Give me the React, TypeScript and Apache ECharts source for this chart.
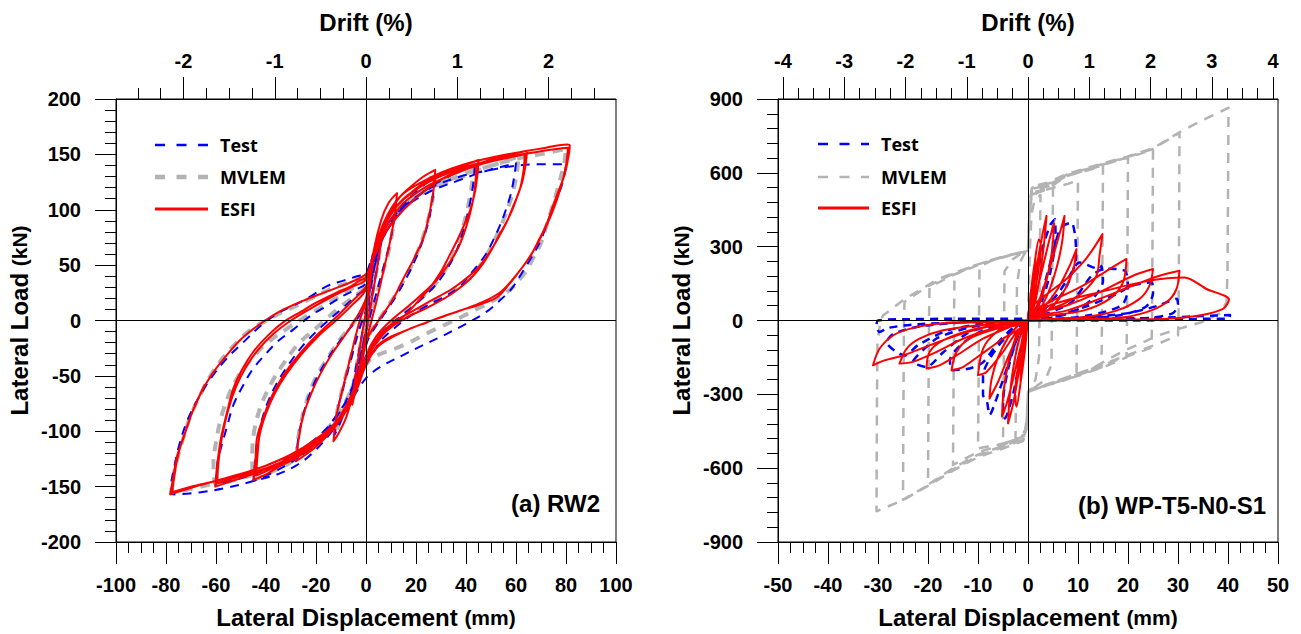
import React, { useEffect, useRef } from "react";
import * as echarts from "echarts";

type Pt = [number, number];

// ---------------- Panel (a) RW2 ----------------
const rw2DriftMajor = [-2, -1, 0, 1, 2];
const rw2DriftMinor = [-2.5, -2.25, -1.75, -1.5, -1.25, -0.75, -0.5, -0.25, 0.25, 0.5, 0.75, 1.25, 1.5, 1.75, 2.25, 2.5];
const RW2_MM_PER_PCT = 36.5;

const rw2Test: Pt[][] = [
  [[0, 0], [2, 30], [4, 55], [6, 72], [5, 55], [3, 30], [1, 5], [0, -8], [-2, -30], [-4, -55], [-6, -72], [-5, -55], [-3, -30], [-1, -5], [0, 5]],
  [[2, 40], [5, 70], [8, 90], [12, 108], [11, 88], [9, 65], [6, 40], [3, 15], [0, -10], [-3, -40], [-6, -65], [-9, -85], [-12.5, -103], [-11.5, -82], [-9, -60], [-6, -35], [-3, -10], [0, 10]],
  [[3, 45], [7, 75], [12, 95], [18, 112], [24, 124], [27.5, 130], [26.5, 108], [24.5, 85], [21, 62], [17, 42], [12, 22], [7, 5], [2, -12], [0, -22], [-3, -45], [-7, -68], [-12, -88], [-18, -105], [-24, -118], [-28, -127], [-27, -105], [-24.5, -80], [-21, -58], [-16, -37], [-10, -17], [-4, 0], [0, 15]],
  [[3, 50], [8, 80], [15, 100], [24, 118], [33, 130], [43.5, 141], [43, 125], [41.5, 105], [39, 82], [36, 62], [32, 45], [27, 30], [21, 17], [14, 4], [8, -7], [3, -20], [0, -32], [-3.6, -55], [-8, -78], [-14, -98], [-22, -115], [-30, -128], [-38, -138], [-45, -145], [-44, -120], [-42.5, -98], [-40, -78], [-36, -58], [-31, -40], [-25, -22], [-18, -6], [-10, 10], [-4, 22], [0, 30]],
  [[4.4, 67], [11, 94], [24.4, 115], [37.7, 127], [48, 135], [60, 142], [59.3, 130], [58, 115], [56.4, 103], [54, 88], [51, 73], [48, 60], [44.4, 49], [41, 40], [37.7, 31], [31, 21], [24.4, 13.5], [17, 3], [11, -7.5], [6, -18], [3, -28.5], [0, -40], [-6, -67], [-11, -83], [-15.6, -97], [-22, -110], [-29, -121], [-36, -130], [-42, -136], [-51, -143], [-60, -148], [-59.4, -128], [-58, -115], [-55.5, -95], [-53, -76], [-49, -58], [-45, -43], [-40, -30], [-35.6, -19.5], [-29, -8], [-22, 4.5], [-15, 14], [-9, 22.5], [-4, 28], [0, 34]],
  [[4.4, 73], [11, 94], [24.4, 118], [37.7, 130], [48, 135], [57.7, 139], [68, 141], [80, 141], [79.5, 133], [78, 120], [75, 103], [72.5, 88], [70, 73], [67, 60], [64, 49], [61, 38], [58, 28], [53, 17], [48, 7.5], [40, -3], [31, -13.5], [23, -22], [15, -31], [8, -39], [3, -46], [0, -52], [-4, -65], [-9, -85], [-15, -104], [-22, -121], [-28, -131], [-35.6, -139], [-45, -145], [-55.6, -151], [-66, -155], [-77, -157], [-78, -150], [-77, -136], [-75, -115], [-71.6, -91], [-67, -70], [-62, -52], [-56, -35], [-49, -19.5], [-42, -4.5], [-35, 7], [-29, 13.5], [-22, 22], [-15.6, 31], [-9, 36], [-3.6, 40], [0, 43], [2, 55]],
];

const rw2Mvlem: Pt[][] = [
  [[0, 0], [2, 32], [4.4, 58], [6, 72], [5, 55], [3, 30], [1, 5], [0, -8], [-2, -30], [-4, -55], [-5.5, -70], [-4.5, -52], [-2.5, -25], [0, 2]],
  [[2, 38], [5, 68], [8.5, 90], [12, 106], [11, 86], [9, 62], [6, 38], [3, 14], [0, -10], [-3, -40], [-6, -64], [-9.5, -86], [-12.5, -103], [-11.5, -82], [-9, -58], [-6, -33], [-3, -8], [0, 12]],
  [[3, 48], [7, 78], [12, 98], [18, 114], [24, 125], [27.5, 132], [26.8, 112], [24.5, 88], [21, 64], [17, 44], [12, 24], [7, 7], [2, -10], [0, -20], [-3, -44], [-7, -68], [-12, -88], [-18, -104], [-24, -117], [-28, -126], [-27, -104], [-24.5, -79], [-21, -56], [-16, -36], [-10, -16], [-4, 1], [0, 18]],
  [[3, 55], [8, 84], [15, 104], [24, 119], [33, 130], [43, 142], [42.5, 125], [41, 105], [38.5, 82], [35.5, 62], [31.5, 45], [27, 31], [21, 18], [14, 5], [8, -6], [3, -20], [0, -32], [-3.6, -55], [-8, -78], [-14, -98], [-22, -115], [-30, -128], [-38, -137], [-45, -144], [-45.5, -120], [-44.5, -97], [-42, -77], [-38, -57], [-33, -39], [-27, -21], [-19, -5], [-11, 11], [-4, 23], [0, 31]],
  [[4.4, 68], [11, 96], [24.4, 117], [37.7, 129], [48, 138], [61, 148], [60.4, 134], [59, 118], [57, 103], [54.5, 88], [51.5, 73], [48, 58], [44.4, 46], [40, 36], [35, 27], [28, 18], [21, 10], [14, 1], [8, -9], [3.5, -22], [0, -38], [-5, -64], [-11, -88], [-17, -104], [-24, -118], [-32, -128], [-42, -137], [-51, -143], [-60, -148], [-61, -128], [-60, -110], [-58, -88], [-55, -68], [-51, -50], [-46, -35], [-40, -21], [-32, -8], [-23, 5], [-14, 17], [-7, 27], [0, 38]],
  [[4.4, 70], [11, 97], [24.4, 118], [37.7, 131], [44.4, 136], [55, 143], [64.4, 148], [72, 151], [80, 155], [79.5, 145], [79, 139], [77, 122], [75, 106], [72.5, 88], [70, 70], [67, 57], [64.4, 46], [61, 36], [57.7, 28], [51, 18], [44.4, 10.5], [38, 3], [31, -4.5], [24, -12], [17.7, -19.5], [11, -26], [4.4, -31.5], [0, -40], [-5, -67], [-11.6, -91], [-17, -104], [-22, -115], [-32, -127], [-42, -136], [-52, -143], [-62, -148], [-70, -152], [-78, -156], [-77, -140], [-75, -121], [-72.5, -102], [-70, -85], [-66, -66], [-62, -49], [-57, -33], [-51.6, -19.5], [-46, -8], [-41, -1.5], [-34, 7], [-27.6, 13.5], [-21, 21], [-14, 28.5], [-7, 34], [0, 40]],
];

const rw2Esfi: Pt[][] = [
  [[0, 0], [1.5, 30], [3, 55], [5, 75], [6.4, 82], [5.8, 68], [4.5, 48], [3, 28], [1.5, 8], [0, -10], [-1.5, -30], [-3, -50], [-4.5, -66], [-5.5, -76], [-4.8, -60], [-3.5, -40], [-2, -18], [-0.5, 2], [0, 8]],
  [[1, 30], [3, 62], [6, 90], [9, 106], [12.4, 115], [11.5, 95], [9.5, 70], [7, 45], [4.5, 20], [2, -2], [0, -18], [-2, -38], [-5, -65], [-8, -88], [-11, -102], [-13, -109], [-12, -88], [-10, -68], [-7.5, -45], [-5, -22], [-2.5, 0], [0, 18]],
  [[2, 45], [5, 72], [8.4, 92], [13, 110], [18, 121], [23, 130], [27.7, 136], [27, 118], [25.5, 98], [23, 75], [19, 55], [15, 38], [11, 20], [6, 3], [2, -10], [0, -20], [-2.3, -45], [-6, -68], [-10, -85], [-14, -100], [-19, -112], [-24, -121], [-28, -127], [-27, -108], [-25, -85], [-21, -61], [-17, -43], [-13, -28], [-8, -12], [-4, 2], [0, 20]],
  [[3, 60], [6, 82], [10, 98], [17.7, 115], [25, 127], [31, 133], [38, 139], [45, 145], [44.6, 132], [43.5, 115], [41.7, 100], [39, 85], [36.4, 72], [33, 57], [29.7, 43], [25.7, 30], [21.7, 19.5], [17, 8], [12.4, -1.5], [8, -10], [4.4, -19.5], [1.5, -30], [0, -37], [-3.6, -60], [-7.5, -78], [-11.6, -91], [-17, -105], [-22, -115], [-28, -124], [-35.6, -133], [-40, -139], [-45, -144], [-44.2, -125], [-43.6, -106], [-41, -87], [-38, -70], [-34, -53], [-29, -37], [-23, -21], [-17, -7.5], [-11, 5], [-6, 16.5], [-2.5, 24], [0, 31]],
  [[3, 55], [8, 80], [15, 100], [24, 118], [33, 131], [44, 141], [43.8, 125], [42.5, 105], [40, 84], [37, 66], [33, 51], [28.5, 37], [23, 25], [17, 13], [11, 2], [6, -9], [2.5, -20], [0, -33], [-4, -60], [-9, -82], [-15, -100], [-23, -115], [-31, -126], [-38, -134], [-44, -140], [-43.4, -122], [-42.5, -103], [-40, -84], [-36.5, -66], [-32, -49], [-26, -31], [-19, -14], [-12, 0], [-6, 13], [0, 28]],
  [[3, 62], [7, 85], [13, 105], [24, 124], [34, 134], [44, 141], [54, 148], [64.4, 153], [63.8, 140], [62.5, 125], [60.5, 112], [58.5, 100], [56, 88], [53.7, 79], [50.5, 65], [47, 52], [43.5, 42], [40, 34], [35.5, 26], [31, 19.5], [24, 11], [17.7, 4.5], [12, -3], [7, -10.5], [3.5, -20], [1.7, -28.5], [0, -38], [-3.6, -62], [-7.5, -80], [-11.6, -94], [-19, -110], [-27.6, -121], [-35, -129], [-42, -136], [-51, -143], [-60.3, -150], [-59.5, -130], [-58, -106], [-55.5, -82], [-53, -61], [-49.5, -44], [-45, -28], [-39, -13], [-33, -1.5], [-26, 8], [-19.6, 16.5], [-12, 25], [-6, 31], [-2.5, 36], [0, 39]],
  [[3, 58], [8, 84], [15, 106], [25, 122], [35, 132], [46, 141], [55, 146], [63.5, 150], [63, 135], [61.5, 118], [59, 104], [56.5, 90], [53, 75], [49, 60], [45, 48], [40, 38], [34, 28], [26, 18], [19, 9], [12, 0], [6, -12], [2.5, -24], [0, -35], [-4, -60], [-9, -82], [-15, -100], [-24, -116], [-33, -127], [-42, -135], [-51, -141], [-59.5, -147], [-59, -128], [-57.5, -104], [-55, -80], [-52, -60], [-48, -42], [-43, -26], [-37, -12], [-30, 0], [-22, 11], [-14, 21], [-6, 30], [0, 37]],
  [[3, 58], [7, 88], [13.7, 112], [24, 127], [34, 137], [44, 144], [54, 149], [64, 153], [72, 156], [80.4, 159], [81.5, 158], [80.5, 142], [79.2, 130], [77.7, 121], [75, 105], [72.4, 88], [69, 72], [65.7, 58], [61.5, 45], [57.7, 34], [52.4, 21], [45, 14], [37.7, 9], [31, 3.5], [24.4, -1.5], [17.5, -7.5], [11, -13.5], [6, -20], [3, -28], [0, -40], [-3.6, -61], [-6.5, -75], [-9, -85], [-13, -95], [-17, -103], [-25, -116], [-35.6, -127], [-45, -135], [-55.6, -142], [-67, -149], [-78.3, -157], [-77, -140], [-75.5, -122], [-73, -106], [-69.5, -83], [-65, -61], [-60.5, -45], [-55.6, -31], [-50.5, -18], [-45, -7.5], [-39, 2], [-33, 10], [-25, 18], [-17, 25], [-10, 31], [-3.6, 37], [0, 42]],
  [[3, 55], [8, 88], [15, 110], [25, 125], [35, 135], [45, 142], [55, 147], [65, 151], [73, 154], [80.8, 156], [80, 140], [78.5, 125], [76.5, 110], [74, 95], [71, 80], [67.5, 65], [63.5, 51], [59, 38], [54, 26], [47, 17], [39, 10], [31, 4], [24, -2], [17, -8], [10.5, -15], [5.5, -22], [2.5, -30], [0, -40], [-3.6, -60], [-8, -80], [-13, -94], [-20, -107], [-30, -121], [-40, -131], [-50, -139], [-60, -145], [-70, -150], [-77.5, -155], [-76.5, -138], [-75, -120], [-72.5, -102], [-69, -80], [-64.5, -58]],
];

// ---------------- Panel (b) WP-T5-N0-S1 ----------------
const wpDriftMajor = [-4, -3, -2, -1, 0, 1, 2, 3, 4];
const wpDriftMinor = [-3.75, -3.5, -3.25, -2.75, -2.5, -2.25, -1.75, -1.5, -1.25, -0.75, -0.5, -0.25, 0.25, 0.5, 0.75, 1.25, 1.5, 1.75, 2.25, 2.5, 2.75, 3.25, 3.5, 3.75];
const WP_MM_PER_PCT = 12.25;

const wpMvlem: Pt[][] = [
  [[0, 0], [0.2, 150], [0.4, 300], [0.7, 430], [1.3, 490], [2.5, 510], [2.4, 300], [2.3, 50], [2.2, -150], [1.5, -240], [0.7, -275], [0, -290], [-0.2, -380], [-0.5, -440], [-1.2, -470], [-2.5, -480], [-2.4, -300], [-2.3, -50], [-2.2, 150], [-1.5, 240], [-0.7, 272], [0, 283]],
  [[0.2, 400], [0.6, 500], [2, 520], [3.5, 530], [5, 540], [4.9, 300], [4.8, 50], [4.7, -180], [3.5, -240], [2, -262], [0.8, -280], [0, -290], [-0.2, -400], [-0.6, -460], [-2, -480], [-3.5, -490], [-5, -500], [-4.9, -300], [-4.8, -50], [-4.7, 200], [-3, 250], [-1.5, 270], [0, 283]],
  [[0.2, 420], [0.6, 510], [3, 528], [6, 545], [8, 555], [10, 570], [9.9, 300], [9.8, 0], [9.7, -215], [7, -240], [4, -262], [1.5, -280], [0, -290], [-0.3, -410], [-0.8, -470], [-3, -490], [-6, -505], [-8, -512], [-10, -520], [-9.9, -300], [-9.8, 0], [-9.7, 220], [-7, 245], [-4, 262], [-1.5, 275], [0, 283]],
  [[0.3, 430], [0.8, 520], [4, 535], [7.7, 587], [11, 605], [15, 627], [14.9, 300], [14.8, 0], [14.7, -190], [11, -215], [7, -245], [3, -268], [0, -290], [-0.3, -420], [-0.8, -470], [-5, -505], [-10, -535], [-12.5, -560], [-15, -587], [-14.9, -300], [-14.8, 0], [-14.7, 185], [-11, 222], [-7, 248], [-3, 268], [0, 283]],
  [[0.3, 440], [0.8, 530], [4, 545], [7.7, 587], [14.3, 627], [17, 645], [20, 661], [19.9, 300], [19.8, 0], [19.7, -150], [15, -190], [10, -225], [5, -255], [2, -275], [0, -290], [-0.3, -430], [-1, -480], [-5, -510], [-10, -545], [-15, -600], [-20, -667], [-19.9, -300], [-19.8, 0], [-19.7, 135], [-15, 185], [-10, 225], [-5, 258], [-2, 274], [0, 283]],
  [[0.3, 450], [0.8, 535], [4, 550], [7.7, 590], [14.3, 630], [19.7, 661], [25, 694], [24.9, 300], [24.8, 0], [24.7, -110], [20, -145], [15, -180], [10, -218], [5, -252], [2, -274], [0, -290], [-0.3, -440], [-1, -485], [-5, -515], [-10, -550], [-15, -605], [-20, -670], [-25, -728], [-24.9, -300], [-24.8, 0], [-24.7, 75], [-20, 140], [-15, 190], [-10, 228], [-5, 258], [-2, 274], [0, 283]],
  [[0.3, 460], [0.8, 540], [4, 555], [7.7, 592], [14.3, 632], [19.7, 663], [25, 697], [30.3, 763], [30.2, 300], [30.1, 0], [30, -60], [26, -95], [20, -140], [15, -178], [10, -215], [5, -250], [2, -274], [0, -290], [-0.3, -450], [-1, -490], [-5, -520], [-10, -555], [-15, -610], [-20, -672], [-25, -730], [-30.3, -775], [-30.2, -300], [-30.1, -90], [-29.5, 0], [-29, 20], [-24.6, 88], [-18, 168], [-11, 222], [-4.6, 263], [0, 283]],
  [[0.3, 470], [0.8, 545], [4, 560], [7.7, 595], [14.3, 635], [19.7, 665], [25, 700], [30.3, 765], [35, 815], [40.1, 864], [40, 500], [39.9, 200], [39.7, 75], [38.5, 30], [34.7, -7], [30, -35], [26, -61], [18.7, -128], [12.7, -196], [5.4, -249], [0, -283]],
];

const wpTest: Pt[][] = [
  [[0, 0], [1.5, 150], [3, 300], [4.5, 390], [5.4, 411], [5.5, 330], [4.5, 200], [3, 90], [1.5, 25], [0, 0]],
  [[-1.5, -150], [-3, -300], [-4.6, -398], [-5, -330], [-4, -200], [-2.5, -90], [-1, -20], [0, 0]],
  [[2, 60], [4, 200], [6, 350], [7, 384], [8.7, 398], [9.5, 330], [9.6, 260], [8, 150], [5, 60], [2, 15], [0, 0]],
  [[-2, -60], [-4, -180], [-6, -300], [-7.7, -384], [-8.2, -330], [-9, -303], [-9, -222], [-7.5, -150], [-5, -80], [-2, -25], [0, 0]],
  [[3, 40], [6, 110], [8, 170], [10.3, 236], [14.3, 209], [14.7, 222], [15, 160], [13, 90], [9, 35], [4, 8], [0, 0]],
  [[-3, -30], [-6, -90], [-9, -170], [-11.7, -195], [-15.3, -202], [-15.6, -160], [-13.5, -100], [-9, -40], [-4, -8], [0, 0]],
  [[4, 30], [8.7, 74], [12.7, 182], [15.4, 210], [19.4, 202], [20, 128], [18.7, 61], [12, 20], [5, 5], [0, 0]],
  [[-6, -15], [-12, -50], [-17, -130], [-20.3, -189], [-23, -168], [-21, -120], [-18, -70], [-12, -30], [-5, -6], [0, 0]],
  [[6, 20], [12, 60], [18, 110], [20.5, 140], [24.7, 155], [25, 110], [23.5, 55], [18, 20], [8, 5], [0, 0]],
  [[-8, -10], [-16, -40], [-22, -100], [-24.6, -142], [-28.3, -88], [-27, -55], [-22, -25], [-12, -6], [0, 0]],
  [[10, 10], [20, 30], [26, 60], [29.7, 88], [30, 67], [29, 30], [24, 10], [12, 3], [0, 0]],
  [[-12, -7], [-22, -15], [-28, -30], [-29.7, -47], [-30.3, -20], [-30, 0], [-25, 5], [-15, 7], [0, 7]],
  [[15.4, 7], [28.7, 13], [35, 18], [40.4, 22], [40.2, 8], [35.4, 7], [22, 0], [10, 0], [0, 0]],
];

const wpEsfi: Pt[][] = [
  [[0, 0], [0.5, 90], [1, 180], [1.5, 260], [1.3, 170], [0.8, 80], [0.3, 20], [0, 0]],
  [[-0.5, -90], [-1, -170], [-1.5, -250], [-1.3, -160], [-0.8, -70], [-0.3, -15], [0, 0]],
  [[0.6, 120], [1.3, 230], [2.2, 330], [2.6, 300], [2, 200], [1.2, 90], [0.4, 20], [0, 0]],
  [[-0.6, -120], [-1.4, -240], [-2.3, -350], [-2.6, -300], [-2, -190], [-1.2, -80], [-0.4, -15], [0, 0]],
  [[1, 120], [2, 250], [3, 360], [3.7, 425], [3.3, 330], [2.5, 200], [1.5, 80], [0.5, 15], [0, 0]],
  [[-1, -110], [-2, -230], [-3, -340], [-4, -418], [-3.7, -320], [-3, -200], [-1.8, -80], [-0.5, -15], [0, 0]],
  [[1.5, 100], [3, 220], [4.3, 330], [5.2, 395], [4.9, 300], [4, 190], [2.5, 80], [1, 20], [0, 0]],
  [[-1.5, -110], [-3, -240], [-4.3, -340], [-5.2, -390], [-4.9, -290], [-4, -180], [-2.5, -70], [-1, -15], [0, 0]],
  [[2, 70], [4, 190], [6, 330], [7.3, 425], [6.9, 330], [5.8, 220], [4, 110], [2, 35], [0, 0]],
  [[-2, -60], [-4, -150], [-6, -250], [-7.7, -317], [-7.3, -240], [-6, -150], [-4, -70], [-2, -20], [0, 0]],
  [[3, 50], [6, 130], [8.5, 230], [9.7, 290], [9.1, 210], [7.5, 130], [5, 60], [2, 15], [0, 0]],
  [[-3, -15], [-6.3, -47], [-9, -115], [-10, -222], [-8.3, -209], [-5, -128], [-2.3, -47], [0, 0]],
  [[1, 20], [4.3, 45], [7.7, 74], [11, 115], [13.7, 182], [14.3, 263], [14.9, 351], [13, 290], [11, 236], [7.7, 169], [4.3, 115], [1, 61], [0, 20]],
  [[0, -5], [-6.3, -34], [-11.7, -74], [-14.3, -128], [-15.3, -202], [-13, -189], [-9.7, -142], [-5, -74], [-1.7, -34], [0, 0]],
  [[4.3, 20], [11, 40], [16.3, 88], [19, 155], [19.7, 250], [16.3, 209], [11, 142], [4.3, 74], [0, 20]],
  [[0, -3], [-5, -13], [-11.7, -40], [-17, -81], [-19.7, -128], [-20.3, -195], [-17.7, -182], [-14.3, -142], [-9, -74], [-3.7, -27], [0, 0]],
  [[11, 13], [17.7, 40], [22.3, 88], [24.3, 142], [25, 209], [21, 182], [14.3, 115], [7.7, 61], [0, 15]],
  [[0, -3], [-10.3, -20], [-17, -40], [-21.7, -74], [-24.3, -115], [-25.7, -175], [-23, -168], [-18.3, -128], [-13, -74], [-6.3, -27], [0, 0]],
  [[17.7, 10], [23.7, 34], [27.7, 74], [29.7, 128], [30.3, 202], [26.3, 182], [21, 142], [14.3, 88], [7.7, 40], [0, 10]],
  [[0, -2], [-11.7, -7], [-18.3, -13], [-23.7, -34], [-27, -61], [-29.7, -115], [-31, -182], [-28.7, -162], [-25, -142], [-19.7, -101], [-14.3, -61], [-8.3, -27], [-2.3, -7], [0, 0]],
  [[4.3, 61], [14.3, 115], [24.3, 162], [31.3, 175], [35.7, 128], [40.2, 85], [39, 47], [34.3, 20], [27.7, 7], [14.3, 3], [0, 0]],
];

// ---------------- styling ----------------
const BLACK = "#000000";
const BLUE = "#0000FF";
const RED = "#FF0000";
const GREY = "#B3B3B3";
const AX_FONT = "'Liberation Sans', Arial, sans-serif";
const LEG_FONT = "'Open Sans', 'Noto Sans', sans-serif";

const flat = (c: Pt[][]): Pt[] => ([] as Pt[]).concat(...c);

const lineAxis = { show: true, onZero: false, lineStyle: { color: BLACK, width: 1 } };
const tickLabel = { color: BLACK, fontFamily: AX_FONT, fontWeight: "bold", fontSize: 20 };
const nameRich = {
  a: { fontFamily: AX_FONT, fontWeight: "bold", fontSize: 24, color: BLACK },
  b: { fontFamily: AX_FONT, fontWeight: "bold", fontSize: 21, color: BLACK },
};

function bottomAxis(gridIndex: number, min: number, max: number, interval: number) {
  return {
    gridIndex, type: "value", position: "bottom", min, max, interval,
    axisLine: lineAxis,
    axisTick: { show: true, inside: false, length: 22, lineStyle: { color: BLACK, width: 1 } },
    minorTick: { show: true, splitNumber: 4, length: 11, lineStyle: { color: BLACK, width: 1 } },
    axisLabel: { ...tickLabel, margin: 33 },
    splitLine: { show: false }, minorSplitLine: { show: false },
    name: "{a|Lateral Displacement}  {b|(mm)}", nameLocation: "middle", nameGap: 63,
    nameTextStyle: { rich: nameRich },
  };
}

function topAxes(gridIndex: number, min: number, max: number, major: number[], minor: number[], mmPerPct: number) {
  const majorMm = major.map((d) => d * mmPerPct);
  const minorMm = minor.map((d) => d * mmPerPct);
  return [
    {
      gridIndex, type: "value", position: "top", min, max,
      axisLine: lineAxis,
      axisTick: { show: true, inside: false, length: 22, customValues: majorMm, lineStyle: { color: BLACK, width: 1 } },
      axisLabel: {
        ...tickLabel, margin: 28, customValues: majorMm,
        formatter: (v: number) => String(Math.round(v / mmPerPct)),
      },
      splitLine: { show: false },
      name: "{a|Drift (%)}", nameLocation: "middle", nameGap: 65,
      nameTextStyle: { rich: nameRich },
    },
    {
      gridIndex, type: "value", position: "top", min, max,
      axisLine: { show: false, onZero: false },
      axisTick: { show: true, inside: false, length: 11, customValues: minorMm, lineStyle: { color: BLACK, width: 1 } },
      axisLabel: { show: false },
      splitLine: { show: false },
    },
  ];
}

function leftAxis(gridIndex: number, min: number, max: number, interval: number) {
  return {
    gridIndex, type: "value", position: "left", min, max, interval,
    axisLine: lineAxis,
    axisTick: { show: true, inside: false, length: 21, lineStyle: { color: BLACK, width: 1 } },
    minorTick: { show: true, splitNumber: 5, length: 11, lineStyle: { color: BLACK, width: 1 } },
    axisLabel: { ...tickLabel, margin: 35 },
    splitLine: { show: false }, minorSplitLine: { show: false },
    name: "{a|Lateral Load}  {b|(kN)}", nameLocation: "middle", nameGap: 85,
    nameTextStyle: { rich: nameRich },
  };
}

function curve(name: string, data: Pt[], xi: number, yi: number, color: string, width: number, dash: number[] | null, smooth: number, extra: any = {}) {
  return {
    name, type: "line", xAxisIndex: xi, yAxisIndex: yi, data, showSymbol: false, symbol: "none",
    smooth, clip: true, silent: true,
    lineStyle: { color, width, type: dash ? dash : "solid", cap: "butt", join: "round" },
    ...extra,
  };
}

const zeroLines = {
  silent: true, symbol: ["none", "none"], label: { show: false },
  lineStyle: { color: BLACK, width: 1, type: "solid" },
  data: [{ xAxis: 0 }, { yAxis: 0 }],
};

function legend(x0: number, x1: number, tx: number, ys: number[], greyWidth: number) {
  const items = [
    { label: "Test", stroke: BLUE, w: 2.5, dash: [10, 11.5] },
    { label: "MVLEM", stroke: GREY, w: greyWidth, dash: [10, 11.5] },
    { label: "ESFI", stroke: RED, w: 3, dash: null as number[] | null },
  ];
  const els: any[] = [];
  items.forEach((it, i) => {
    els.push({
      type: "line", silent: true,
      shape: { x1: x0, y1: ys[i], x2: x1, y2: ys[i] },
      style: { stroke: it.stroke, lineWidth: it.w, lineDash: it.dash || undefined },
    });
    els.push({
      type: "text", silent: true, x: tx, y: ys[i],
      style: { text: it.label, fill: BLACK, font: `bold 18px ${LEG_FONT}`, textVerticalAlign: "middle", verticalAlign: "middle", textAlign: "left", align: "left" },
    });
  });
  return els;
}

export default function App() {
  const ref = useRef<HTMLDivElement>(null);
  useEffect(() => {
    if (!ref.current) return;
    const chart = echarts.init(ref.current, undefined, { renderer: "svg" });
    const option: any = {
      animation: false,
      backgroundColor: "#FFFFFF",
      grid: [
        { left: 116, top: 99, width: 500, height: 445, show: true, borderColor: BLACK, borderWidth: 1, backgroundColor: "transparent", containLabel: false },
        { left: 778, top: 99, width: 500, height: 445, show: true, borderColor: BLACK, borderWidth: 1, backgroundColor: "transparent", containLabel: false },
      ],
      xAxis: [
        bottomAxis(0, -100, 100, 20),
        ...topAxes(0, -100, 100, rw2DriftMajor, rw2DriftMinor, RW2_MM_PER_PCT),
        bottomAxis(1, -50, 50, 10),
        ...topAxes(1, -50, 50, wpDriftMajor, wpDriftMinor, WP_MM_PER_PCT),
      ],
      yAxis: [leftAxis(0, -200, 200, 50), leftAxis(1, -900, 900, 300)],
      series: [
        curve("MVLEM", flat(rw2Mvlem), 0, 0, GREY, 4, [10, 8], 0.35, { markLine: zeroLines }),
        curve("Test", flat(rw2Test), 0, 0, BLUE, 2, [9, 7], 0.35),
        curve("ESFI", flat(rw2Esfi), 0, 0, RED, 2, null, 0.35),
        curve("MVLEM", flat(wpMvlem), 3, 1, GREY, 2.5, [10, 8], 0, { markLine: zeroLines }),
        curve("Test", flat(wpTest), 3, 1, BLUE, 2.5, [8, 6], 0.25),
        curve("ESFI", flat(wpEsfi), 3, 1, RED, 2, null, 0.3),
      ],
      graphic: [
        ...legend(155, 208, 220, [145, 177, 209], 4.5),
        ...legend(818, 869, 881, [144, 177, 208], 2.5),
        {
          type: "text", silent: true, x: 600, y: 503,
          style: { text: "(a) RW2", fill: BLACK, font: `bold 24px ${AX_FONT}`, textAlign: "right", align: "right", textVerticalAlign: "middle", verticalAlign: "middle" },
        },
        {
          type: "text", silent: true, x: 1266, y: 505,
          style: { text: "(b) WP-T5-N0-S1", fill: BLACK, font: `bold 24px ${AX_FONT}`, textAlign: "right", align: "right", textVerticalAlign: "middle", verticalAlign: "middle" },
        },
      ],
    };
    chart.setOption(option);
    return () => chart.dispose();
  }, []);
  return <div ref={ref} style={{ position: "absolute", left: 0, top: 0, width: 1301, height: 634, background: "#fff" }} />;
}
